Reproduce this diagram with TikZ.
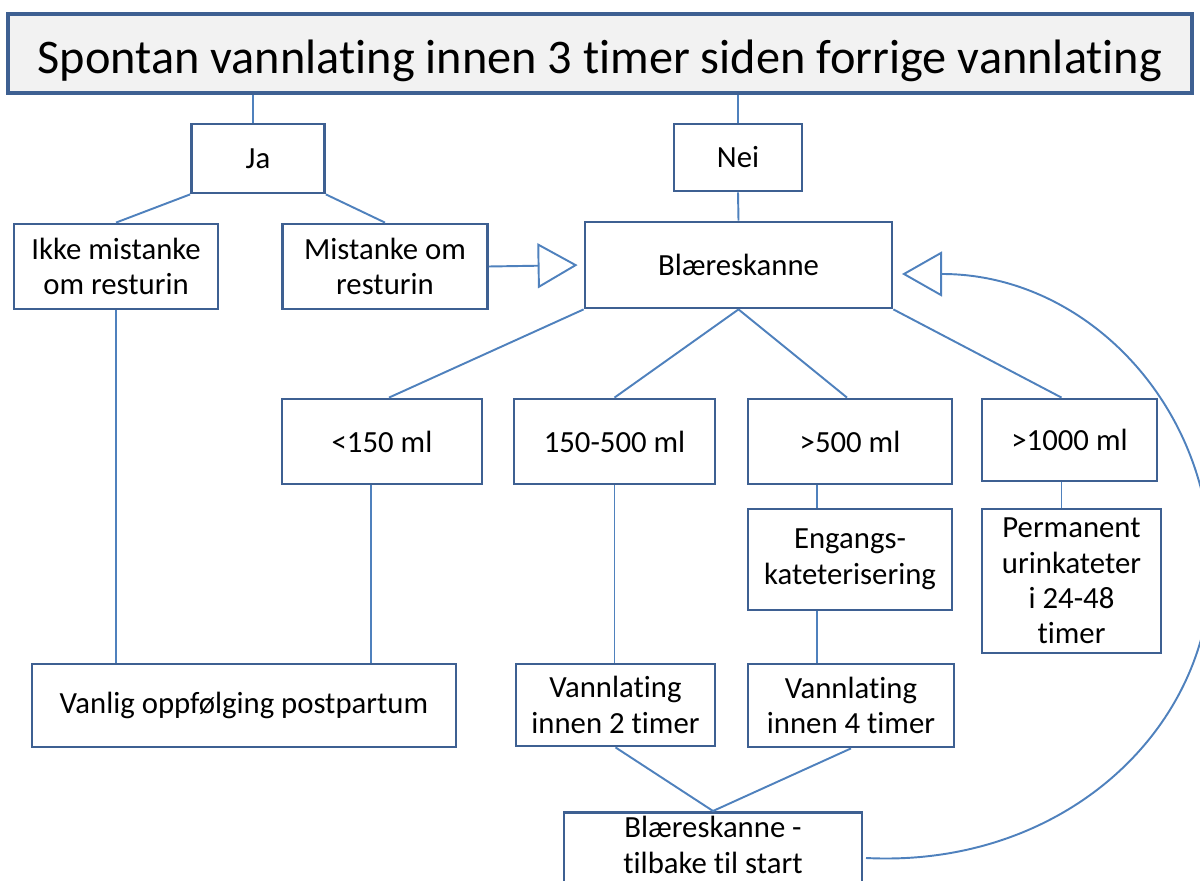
\documentclass[tikz,border=0pt]{standalone}
\usepackage{fontspec}
\setmainfont{Carlito}[Ligatures=NoCommon]
\usetikzlibrary{arrows.meta}
\definecolor{boxc}{RGB}{62,96,146}
\definecolor{linec}{RGB}{79,129,189}
\definecolor{titlefill}{RGB}{242,242,242}
\newdimen\pxu \pxu=0.02cm
\newcommand\bodyfnt{\fontsize{17.5}{20.2}\selectfont}
\tikzset{
  box/.style={draw=boxc, line width=1.6pt, fill=white, align=center, inner sep=0pt, font=\bodyfnt},
  conn/.style={draw=linec, line width=1.1pt},
  opentip/.style={-{Triangle[open,length=0.8cm,width=0.9cm]}}
}
\begin{document}
\begin{tikzpicture}[x=0.02cm,y=-0.02cm]
\useasboundingbox (0,0) rectangle (1200,881);
\clip (0,0) rectangle (1200,881);
% title
\node[draw=boxc, line width=2.6pt, fill=titlefill, minimum width=1184\pxu, minimum height=79\pxu, inner sep=0pt, text height=22.6pt, text depth=0pt, font=\fontsize{27.5}{33}\selectfont] (title) at (600,53.5) {Spontan vannlating innen 3 timer siden forrige vannlating};
% boxes
\node[box, minimum width=133\pxu, minimum height=69\pxu] (ja) at (258,158.5) {Ja};
\node[box, minimum width=128\pxu, minimum height=67\pxu] (nei) at (738,157.5) {Nei};
\node[box, minimum width=204\pxu, minimum height=85\pxu] (ikke) at (116,266.5) {Ikke mistanke\\om resturin};
\node[box, minimum width=205\pxu, minimum height=85\pxu] (mist) at (385,266.5) {Mistanke om\\resturin};
\node[box, minimum width=307\pxu, minimum height=86\pxu] (blaere) at (738.5,265) {Blæreskanne};
\node[box, minimum width=200\pxu, minimum height=85\pxu] (lt) at (382,441.5) {<150 ml};
\node[box, minimum width=201\pxu, minimum height=85\pxu] (mid) at (614.5,441.5) {150-500 ml};
\node[box, minimum width=204\pxu, minimum height=85\pxu] (gtf) at (850,441.5) {>500 ml};
\node[box, minimum width=175\pxu, minimum height=82\pxu] (gtt) at (1069.5,440) {>1000 ml};
\node[box, minimum width=204\pxu, minimum height=101\pxu] (eng) at (850,559.5) {Engangs-\\kateterisering};
\node[box, minimum width=179\pxu, minimum height=144\pxu] (perm) at (1071.5,581) {Permanent\\urinkateter\\i 24-48\\timer};
\node[box, minimum width=424\pxu, minimum height=83\pxu] (vanlig) at (244,705.5) {Vanlig oppfølging postpartum};
\node[box, minimum width=199\pxu, minimum height=82\pxu] (vtwo) at (615.5,705) {Vannlating\\innen 2 timer};
\node[box, minimum width=206\pxu, minimum height=83\pxu] (vfour) at (851,705.5) {Vannlating\\innen 4 timer};
\node[box, minimum width=298\pxu, inner ysep=4\pxu, anchor=north] (bot) at (713,811) {Blæreskanne -\\tilbake til start\rule[-20pt]{0pt}{0pt}};
% connectors
\draw[conn] ([xshift=-5\pxu]ja.north) -- ([xshift=-5\pxu]ja.north |- title.south);
\draw[conn] (nei.north) -- (nei.north |- title.south);
\draw[conn] (ja.south west) -- (ikke.north);
\draw[conn] (ja.south east) -- (mist.north);
\draw[conn] (nei.south) -- (blaere.north);
\draw[conn, opentip, shorten >=0.12cm] (mist.east) -- (blaere.west);
\draw[conn] (blaere.south west) -- ([xshift=7\pxu]lt.north);
\draw[conn] (blaere.south) -- (mid.north);
\draw[conn] (blaere.south) -- ([xshift=-3\pxu]gtf.north);
\draw[conn] (blaere.south east) -- ([xshift=-8\pxu]gtt.north);
\draw[conn] (ikke.south) -- (ikke.south |- vanlig.north);
\draw[conn] ([xshift=-11\pxu]lt.south) -- ([xshift=-11\pxu]lt.south |- vanlig.north);
\draw[conn] (mid.south) -- (mid.south |- vtwo.north);
\draw[conn] ([xshift=-33\pxu]gtf.south) -- ([xshift=-33\pxu]gtf.south |- eng.north);
\draw[conn] ([xshift=-33\pxu]eng.south) -- ([xshift=-33\pxu]eng.south |- vfour.north);
\draw[conn] ([xshift=-8\pxu]gtt.south) -- ([xshift=-8\pxu]gtt.south |- perm.north);
\draw[conn] (vtwo.south) -- (bot.north);
\draw[conn] (vfour.south) -- (bot.north);
% return loop
\coordinate (cs) at (866,858);
\coordinate (ce) at (942,274);
\coordinate (tipr) at (902,274);
\draw[conn, opentip] (cs) .. controls (1063,868) and (1211,730) .. (1211,567)
  .. controls (1211,404) and (1085,274) .. (ce) -- (tipr);
\end{tikzpicture}
\end{document}
